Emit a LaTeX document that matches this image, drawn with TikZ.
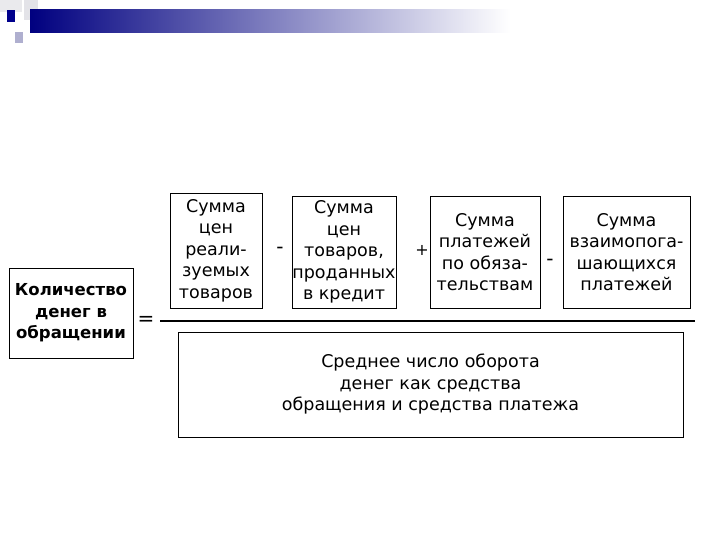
\documentclass[tikz,border=0pt]{standalone}
\usepackage{fontspec}
\setmainfont{DejaVu Sans}
\begin{document}
\begin{tikzpicture}[x=1pt,y=-1pt,
 bx/.style={draw,line width=0.6pt,align=center,font=\fontsize{17.5}{21.5}\selectfont,inner sep=0pt},
 op/.style={font=\fontsize{20}{20}\selectfont,inner sep=0pt}]
\useasboundingbox (0,0) rectangle (720,540);
% decoration
\fill[blue!8!gray!15] (0,0) rectangle (22,12);
\fill[blue!8!gray!20] (24,0) rectangle (38,20);
\shade[left color=blue!50!black,right color=white] (30,10) rectangle (510,33);
\fill[blue!55!black] (7,10) rectangle (15,22);
\fill[blue!25!gray!50] (15,32) rectangle (23,43);
% boxes
\node[bx,minimum width=124,minimum height=90,font=\fontsize{16.5}{21.5}\selectfont\bfseries] (q) at (71,313) {Количество\\денег в\\обращении};
\node[bx,minimum width=92,minimum height=115] (b1) at (216,250.5) {Сумма\\цен\\реали-\\зуемых\\товаров};
\node[bx,minimum width=104,minimum height=112] (b2) at (344,252) {Сумма\\цен\\товаров,\\проданных\\в кредит};
\node[bx,minimum width=110,minimum height=112] (b3) at (485,252) {Сумма\\платежей\\по обяза-\\тельствам};
\node[bx,minimum width=127,minimum height=112] (b4) at (626.5,252) {Сумма\\взаимопога-\\шающихся\\платежей};
\node[bx,minimum width=505,minimum height=105] (d) at (430.5,384.5) {Среднее число оборота\\денег как средства\\обращения и средства платежа};
% operators
\node[op] (m1) at (280,250) {-};
\node[op,font=\fontsize{16}{16}\selectfont] (p1) at (422,250) {+};
\node[op] (m2) at (550,262) {-};
\node[op] (eq) at (146,321) {=};
\coordinate (la) at (160,321);
\coordinate (lb) at (695,321);
\draw[line width=2.5pt] (la) -- (lb);
\end{tikzpicture}
\end{document}
